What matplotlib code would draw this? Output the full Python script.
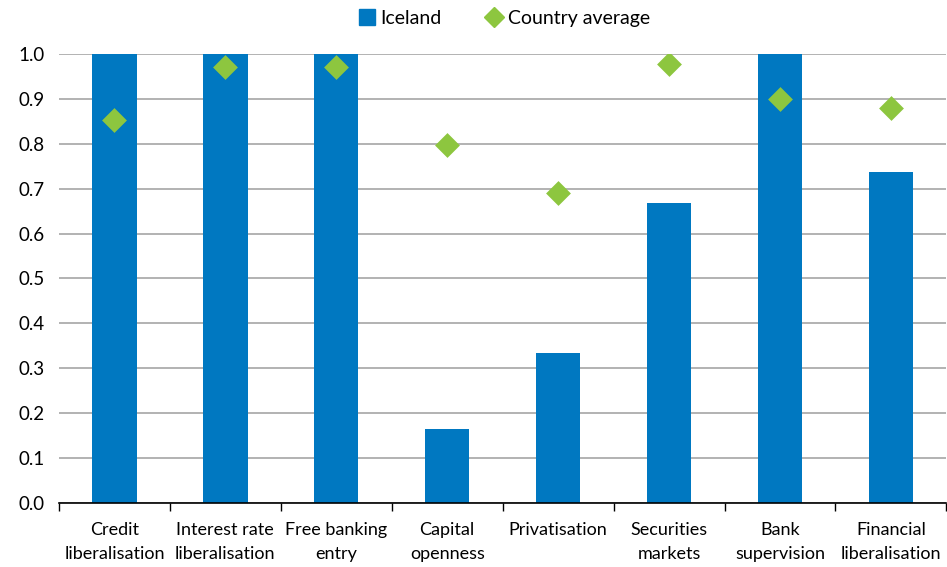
import matplotlib
matplotlib.use("Agg")
import matplotlib.pyplot as plt
from matplotlib.lines import Line2D
import numpy as np

categories = ["Credit\nliberalisation", "Interest rate\nliberalisation", "Free banking\nentry",
              "Capital\nopenness", "Privatisation", "Securities\nmarkets", "Bank\nsupervision",
              "Financial\nliberalisation"]
iceland = [1.0, 1.0, 1.0, 0.165, 0.333, 0.667, 1.0, 0.737]
country_avg = [0.854, 0.970, 0.970, 0.797, 0.690, 0.978, 0.900, 0.880]
yticks = [0.0, 0.1, 0.2, 0.3, 0.4, 0.5, 0.6, 0.7, 0.8, 0.9, 1.0]

plt.rcParams['font.family'] = ['Lato', 'DejaVu Sans']

fig = plt.figure(figsize=(9.47, 5.67), dpi=100)
ax = fig.add_axes([0.0623, 0.1129, 0.937, 0.7919])

x = np.arange(len(categories))
ax.bar(x, iceland, width=0.4, color="#0078C1", zorder=2, label="Iceland")
ax.scatter(x, country_avg, marker="D", s=160, color="#8DC63F", zorder=3, label="Country average", linewidths=0)

ax.set_xlim(-0.5, len(categories) - 0.5)
ax.set_ylim(0, 1.0)
ax.set_yticks(yticks)
ax.set_yticklabels([f"{v:.1f}" for v in yticks], fontsize=13.5)
ax.yaxis.grid(True, color="#A6A6A6", linewidth=1.2, zorder=0)
ax.set_axisbelow(True)
ax.tick_params(axis="y", length=0, pad=10)

ax.set_xticks(x)
ax.set_xticklabels(categories, fontsize=13, linespacing=1.6)
ax.set_xticks(np.arange(-0.5, len(categories), 1.0), minor=True)
ax.tick_params(axis="x", which="major", length=0, pad=14)
ax.tick_params(axis="x", which="minor", length=6, width=1, color="black")

for s in ["top", "right", "left"]:
    ax.spines[s].set_visible(False)
ax.spines["bottom"].set_color("black")
ax.spines["bottom"].set_linewidth(1.2)

handles = [Line2D([], [], marker="s", color="#0078C1", linestyle="none", markersize=11),
           Line2D([], [], marker="D", color="#8DC63F", linestyle="none", markersize=10)]
fig.legend(handles, ["Iceland", "Country average"], loc="center", bbox_to_anchor=(0.532, 0.968),
           ncol=2, frameon=False, fontsize=14, handletextpad=0.2, columnspacing=2.2, handlelength=1.0)

fig.savefig("out.png", dpi=100)
